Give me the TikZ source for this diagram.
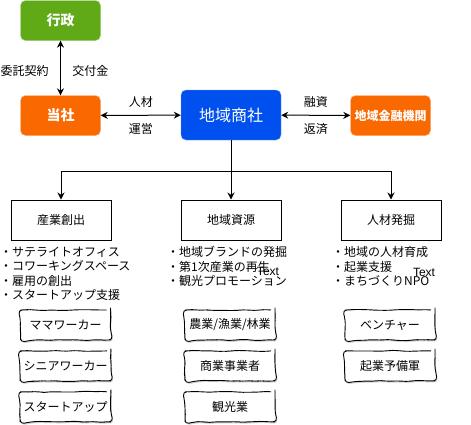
\documentclass[tikz,border=0pt]{standalone}
\usepackage{fontspec}
\setmainfont{Noto Sans CJK JP}
\newfontfamily\latinfont{Liberation Sans}
\usetikzlibrary{arrows.meta,positioning,shapes,shadows,decorations.pathmorphing}
\definecolor{gyoseigreen}{RGB}{96,169,23}
\definecolor{toshaorange}{RGB}{250,104,0}
\definecolor{shoshablue}{RGB}{0,80,239}

\begin{document}
\begin{tikzpicture}[
    x=1pt,y=-1pt,
    node distance=10pt,
    mainbox/.style={rectangle,rounded corners=5pt,draw=#1!55!white,fill=#1,text=white,minimum width=80pt,minimum height=40pt,font=\fontsize{14}{16}\selectfont\bfseries},
    areabox/.style={rectangle,draw,line width=1pt,minimum width=100pt,minimum height=40pt,font=\fontsize{12}{14}\selectfont},
    sketchbox/.style={rectangle,draw,line width=0.9pt,rounded corners=4pt,decorate,decoration={random steps,segment length=6pt,amplitude=0.6pt},fill=white,minimum width=90pt,minimum height=30pt,drop shadow={shadow xshift=1pt,shadow yshift=-1.5pt,opacity=0.35},font=\fontsize{12}{14}\selectfont},
    lbl/.style={font=\fontsize{12}{14}\selectfont},
    listtext/.style={align=left,anchor=north west,inner sep=0pt,font=\fontsize{12}{14.5}\selectfont},
    arrow/.style={-{Stealth[length=7pt,width=7pt]},line width=1pt},
    twoway/.style={{Stealth[length=7pt,width=7pt]}-{Stealth[length=7pt,width=7pt]},line width=1pt}
]
\pgfmathsetseed{11}
\useasboundingbox (0,0) rectangle (471,424);

% top row
\node[mainbox=gyoseigreen] (gyosei) at (60.5,20.5) {行政};
\node[mainbox=toshaorange] (tosha) at (60.5,115.5) {当社};
\node[mainbox=shoshablue,minimum width=100pt,minimum height=50pt,font=\fontsize{16}{18}\selectfont] (shosha) at (231,115) {地域商社};
\node[mainbox=toshaorange,font=\fontsize{12}{14}\selectfont\bfseries] (kinyu) at (390.5,115.5) {地域金融機関};

\draw[twoway] (gyosei) -- node[lbl,pos=.55,left=8pt] (itaku) {委託契約} node[lbl,pos=.55,right=8pt] (kofu) {交付金} (tosha);
\draw[twoway] (tosha) -- node[lbl,above=4pt] (jinzailbl) {人材} node[lbl,below=4pt] (unei) {運営} (shosha);
\draw[twoway] (shosha) -- node[lbl,above=4pt] (yushi) {融資} node[lbl,below=4pt] (hensai) {返済} (kinyu);

% three areas
\node[areabox] (sangyo) at (61,220) {産業創出};
\node[areabox] (shigen) at (231,220) {地域資源};
\node[areabox] (jinzai) at (391,220) {人材発掘};

\draw[line width=1pt] (shosha.south) -- ++(0,31) coordinate (split);
\draw[arrow] (split) -| (sangyo);
\draw[arrow] (split) -- (shigen);
\draw[arrow] (split) -| (jinzai);

% lists
\node[listtext] (sangyolist) at (0,246.5) {・サテライトオフィス\\・コワーキングスペース\\・雇用の創出\\・スタートアップ支援};
\node[listtext] (shigenlist) at (167,246.5) {・地域ブランドの発掘\\・第1次産業の再生\\・観光プロモーション};
\node[listtext] (jinzailist) at (332,246.5) {・地域の人材育成\\・起業支援\\・まちづくりNPO};
\node[font=\latinfont\fontsize{12}{14}\selectfont] (txta) at (268,271) {Text};
\node[font=\latinfont\fontsize{12}{14}\selectfont] (txtb) at (424,272) {Text};

% players
\node[sketchbox] (mama) at (65.5,325) {ママワーカー};
\node[sketchbox,below=of mama] (senior) {シニアワーカー};
\node[sketchbox,below=of senior] (startup) {スタートアップ};
\node[sketchbox] (nogyo) at (230,325) {農業/漁業/林業};
\node[sketchbox,below=of nogyo] (shogyo) {商業事業者};
\node[sketchbox,below=of shogyo] (kanko) {観光業};
\node[sketchbox] (venture) at (390,325) {ベンチャー};
\node[sketchbox,below=of venture] (kigyo) {起業予備軍};
\end{tikzpicture}
\end{document}
